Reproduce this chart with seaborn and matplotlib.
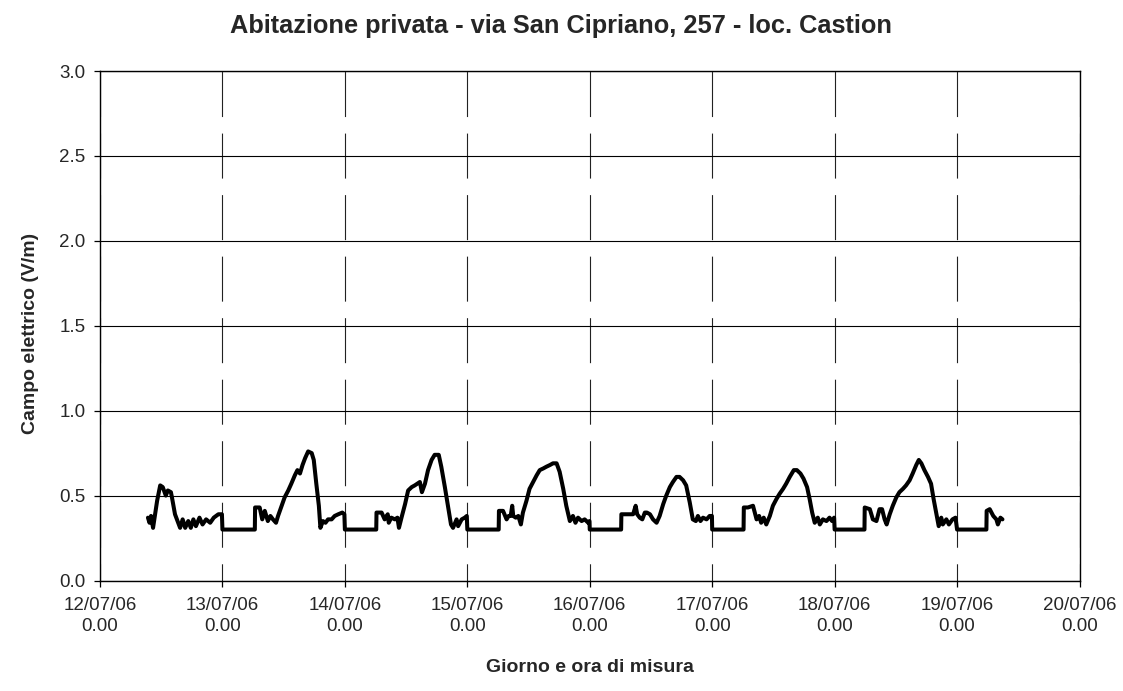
import numpy as np
import pandas as pd
import matplotlib
matplotlib.use("Agg")
import matplotlib.pyplot as plt
import matplotlib.dates as mdates
import matplotlib.ticker as mticker
import seaborn as sns

# ---------------- data (hours after midnight of each day, field in V/m) ----------------
days = ["2006-07-12", "2006-07-13", "2006-07-14", "2006-07-15",
        "2006-07-16", "2006-07-17", "2006-07-18", "2006-07-19"]

h_12 = [9.4, 9.7, 10.0, 10.4, 11.2, 11.8, 12.3, 12.9, 13.3, 13.9, 14.1, 14.7, 15.7,
        16.2, 16.7, 17.3, 17.8, 18.3, 18.8, 19.5, 20.1, 20.8, 21.6, 22.3, 23.2, 23.9]
v_12 = [0.37, 0.34, 0.38, 0.31, 0.47, 0.56, 0.55, 0.50, 0.53, 0.52, 0.49, 0.39, 0.31,
        0.36, 0.31, 0.35, 0.31, 0.36, 0.32, 0.37, 0.33, 0.36, 0.34, 0.37, 0.39, 0.39]

h_13 = [0.0, 6.35, 6.4, 7.3, 7.8, 8.3, 8.9, 9.4, 9.9, 10.5, 10.9, 11.6, 12.2,
        12.9, 13.5, 14.2, 14.7, 15.2, 15.7, 16.2, 16.8, 17.5, 17.9,
        18.4, 18.9, 19.2, 19.7, 20.2, 20.7, 21.4, 22.0, 22.7, 23.5, 23.9]
v_13 = [0.30, 0.30, 0.43, 0.43, 0.36, 0.41, 0.35, 0.38, 0.36, 0.34, 0.38, 0.44, 0.49,
        0.53, 0.57, 0.62, 0.65, 0.63, 0.68, 0.72, 0.76, 0.75, 0.71,
        0.57, 0.44, 0.31, 0.35, 0.34, 0.36, 0.36, 0.38, 0.39, 0.40, 0.39]

h_14 = [0.0, 6.15, 6.2, 7.2, 7.8, 8.4, 8.6, 9.1, 9.8, 10.3, 10.6, 11.1, 11.8,
        12.4, 13.1, 13.7, 14.2, 14.7, 15.1, 15.7, 16.3, 17.0, 17.6,
        18.4, 18.9, 19.6, 20.2, 20.8, 21.2, 21.9, 22.2, 22.9, 23.5, 23.9]
v_14 = [0.30, 0.30, 0.40, 0.40, 0.36, 0.39, 0.34, 0.37, 0.36, 0.37, 0.31, 0.37, 0.45,
        0.53, 0.55, 0.56, 0.57, 0.58, 0.52, 0.57, 0.65, 0.71, 0.74,
        0.74, 0.67, 0.55, 0.44, 0.33, 0.31, 0.36, 0.32, 0.36, 0.37, 0.38]

h_15 = [0.0, 6.15, 6.2, 7.0, 7.7, 8.1, 8.5, 8.8, 9.0, 9.5, 10.0, 10.5, 10.9,
        11.6, 12.2, 12.9, 13.6, 14.2, 14.9, 15.5, 16.2, 16.8, 17.5,
        18.1, 18.8, 19.4, 20.1, 20.7, 21.2, 21.7, 22.4, 23.0, 23.7, 23.95]
v_15 = [0.30, 0.30, 0.41, 0.41, 0.36, 0.38, 0.38, 0.44, 0.38, 0.37, 0.38, 0.33, 0.40,
        0.47, 0.54, 0.58, 0.62, 0.65, 0.66, 0.67, 0.68, 0.69, 0.69,
        0.64, 0.54, 0.44, 0.35, 0.38, 0.34, 0.37, 0.35, 0.36, 0.34, 0.35]

h_16 = [0.0, 6.15, 6.2, 7.2, 8.5, 9.0, 9.3, 9.8, 10.3, 10.8, 11.2, 11.8, 12.4,
        13.1, 13.7, 14.4, 15.0, 15.7, 16.3, 17.0, 17.6, 18.3, 18.9,
        19.6, 20.2, 20.8, 21.2, 21.7, 22.2, 22.9, 23.5, 23.95]
v_16 = [0.30, 0.30, 0.39, 0.39, 0.39, 0.44, 0.39, 0.37, 0.36, 0.40, 0.40, 0.39, 0.36,
        0.34, 0.38, 0.45, 0.50, 0.55, 0.58, 0.61, 0.61, 0.59, 0.56,
        0.46, 0.36, 0.35, 0.38, 0.35, 0.37, 0.36, 0.38, 0.38]

h_17 = [0.0, 6.15, 6.2, 7.0, 8.0, 8.7, 9.2, 9.6, 10.1, 10.6, 11.3, 11.9, 12.6,
        13.2, 13.9, 14.5, 15.2, 16.0, 16.6, 17.3, 17.9, 18.6, 19.1,
        19.6, 20.1, 20.7, 21.1, 21.7, 22.4, 23.0, 23.5, 23.9]
v_17 = [0.30, 0.30, 0.43, 0.43, 0.44, 0.36, 0.38, 0.34, 0.37, 0.33, 0.38, 0.44, 0.48,
        0.51, 0.54, 0.57, 0.61, 0.65, 0.65, 0.63, 0.60, 0.55, 0.48,
        0.40, 0.34, 0.37, 0.33, 0.36, 0.35, 0.37, 0.35, 0.37]

h_18 = [0.0, 5.85, 5.9, 6.9, 7.5, 8.2, 8.8, 9.3, 9.8, 10.2, 10.8, 11.4, 12.1,
        12.7, 13.4, 14.0, 14.7, 15.3, 16.0, 16.5, 17.0, 17.6, 18.3,
        18.9, 19.4, 19.9, 20.4, 20.9, 21.2, 21.9, 22.4, 23.1, 23.7]
v_18 = [0.30, 0.30, 0.43, 0.42, 0.36, 0.35, 0.42, 0.42, 0.36, 0.33, 0.39, 0.44, 0.49,
        0.52, 0.54, 0.56, 0.59, 0.63, 0.68, 0.71, 0.69, 0.65, 0.61,
        0.57, 0.48, 0.40, 0.32, 0.37, 0.33, 0.36, 0.33, 0.36, 0.37]

h_19 = [0.0, 5.75, 5.8, 6.4, 7.1, 7.7, 8.0, 8.5, 8.9]
v_19 = [0.30, 0.30, 0.41, 0.42, 0.38, 0.36, 0.33, 0.37, 0.36]

hours_by_day = [h_12, h_13, h_14, h_15, h_16, h_17, h_18, h_19]
values_by_day = [v_12, v_13, v_14, v_15, v_16, v_17, v_18, v_19]

title = "Abitazione privata - via San Cipriano, 257 - loc. Castion"
xlabel = "Giorno e ora di misura"
ylabel = "Campo elettrico (V/m)"
x_start, x_end = "2006-07-12", "2006-07-20"

# ---------------- build table ----------------
frames = []
for d, h, v in zip(days, hours_by_day, values_by_day):
    t = pd.Timestamp(d) + pd.to_timedelta(np.array(h), unit="h")
    frames.append(pd.DataFrame({"time": t, "campo": v}))
df = pd.concat(frames, ignore_index=True)

# ---------------- style ----------------
sns.set_style("white")
plt.rcParams["font.family"] = ["Liberation Sans", "DejaVu Sans"]
plt.rcParams["lines.scale_dashes"] = False

fig = plt.figure(figsize=(11.23, 6.91), dpi=100)
ax = fig.add_axes([100 / 1123, (691 - 580.5) / 691, 979.5 / 1123, 509.5 / 691])

sns.lineplot(data=df, x="time", y="campo", ax=ax, color="black",
             linewidth=2.9, estimator=None, sort=False, legend=False)

ax.set_xlim(pd.Timestamp(x_start), pd.Timestamp(x_end))
ax.set_ylim(0, 3)

ax.xaxis.set_major_locator(mdates.DayLocator())


def fmt_date(x, pos):
    dt = mdates.num2date(x)
    return dt.strftime("%d/%m/%y") + "\n" + f"{dt.hour}.{dt.minute:02d}"


ax.xaxis.set_major_formatter(mticker.FuncFormatter(fmt_date))
ax.yaxis.set_major_locator(mticker.MultipleLocator(0.5))
ax.yaxis.set_major_formatter(mticker.FormatStrFormatter("%.1f"))

ax.set_axisbelow(True)
ax.grid(axis="y", color="black", linewidth=0.8, linestyle="-")
ax.grid(axis="x", color="#222222", linewidth=0.8, linestyle=(20, (32.4, 11.9)))

for s in ax.spines.values():
    s.set_visible(True)
    s.set_color("black")
    s.set_linewidth(1.0)

ax.tick_params(axis="x", direction="out", length=4, width=0.9, color="black",
               labelsize=13.5, pad=8, bottom=True)
ax.tick_params(axis="y", direction="out", length=4, width=0.9, color="black",
               labelsize=13.5, pad=6.5, left=True)
for lab in ax.get_xticklabels():
    lab.set_linespacing(1.28)

ax.set_xlabel(xlabel, fontsize=14, fontweight="bold")
ax.set_ylabel(ylabel, fontsize=14, fontweight="bold")
ax.xaxis.set_label_coords(0.5, -0.155)
ax.yaxis.set_label_coords(-0.062, 0.484)

fig.text(0.5, 1 - 33 / 691, title, ha="center", va="baseline",
         fontsize=18.3, fontweight="bold")

fig.savefig("out.png", dpi=100)
